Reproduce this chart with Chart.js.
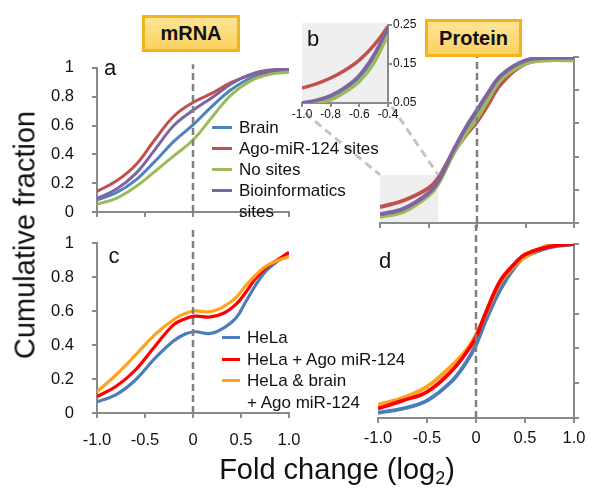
<!DOCTYPE html>
<html>
<head>
<meta charset="utf-8">
<title>Cumulative fraction</title>
<script src="https://cdn.jsdelivr.net/npm/chart.js@4.4.1/dist/chart.umd.min.js"></script>
<style>
  body { margin: 0; background: #fff; }
  #fig { position: relative; width: 601px; height: 501px; overflow: hidden;
         font-family: "Liberation Sans", Arial, sans-serif; color: #111; }
  #fig canvas { position: absolute; }
  .box { position: absolute; box-sizing: border-box; border: 3px solid #f6b21c;
         background: linear-gradient(#fee496, #fbd260); font-weight: bold; font-size: 20px;
         display: flex; align-items: center; justify-content: center; }
  .tag { position: absolute; font-size: 22px; line-height: 1; transform: translate(-50%, -50%); }
  .legend { position: absolute; font-size: 17px; }
  .legend .row { position: relative; white-space: pre; }
  .legend .swatch { position: absolute; left: 0; height: 3px; }
  #legendA .row { line-height: 21px; padding-left: 27px; }
  #legendA .swatch { top: 9px; width: 20px; }
  #legendC .row { line-height: 21.5px; padding-left: 25px; }
  #legendC .swatch { top: 9.25px; width: 18px; }
  .ylab { position: absolute; left: 25px; top: 235px; font-size: 29px; line-height: 1; white-space: nowrap;
          transform: translate(-50%, -50%) rotate(-90deg); }
  .xlab { position: absolute; left: 337px; top: 471px; font-size: 29px; line-height: 1; white-space: nowrap;
          transform: translate(-50%, -50%); }
  .xlab .sub { font-size: 0.62em; vertical-align: -0.3em; }
</style>
</head>
<body>
<div id="fig">
  <canvas id="chartB" width="311" height="240" style="left:290px;top:0px"></canvas>
  <canvas id="chartInset" width="143" height="118" style="left:290px;top:10px"></canvas>
  <canvas id="chartA" width="260" height="200" style="left:40px;top:40px"></canvas>
  <canvas id="chartC" width="280" height="245" style="left:40px;top:215px"></canvas>
  <canvas id="chartD" width="246" height="245" style="left:355px;top:215px"></canvas>

  <div class="box" style="left:142px;top:15px;width:98px;height:37px">mRNA</div>
  <div class="box" style="left:425px;top:19px;width:97px;height:38px">Protein</div>
  <div class="tag" style="left:110px;top:68px">a</div>
  <div class="tag" style="left:313px;top:39px">b</div>
  <div class="tag" style="left:114px;top:256px">c</div>
  <div class="tag" style="left:385px;top:261px">d</div>
  <div id="legendA" class="legend" style="left:212px;top:117px"></div>
  <div id="legendC" class="legend" style="left:222px;top:327px"></div>
  <div class="ylab">Cumulative fraction</div>
  <div class="xlab">Fold change (log<span class="sub">2</span>)</div>
</div>
<script>
// series names
const mrnaNames = ['Brain', 'Ago-miR-124 sites', 'No sites', 'Bioinformatics\nsites'];
const helaNames = ['HeLa', 'HeLa + Ago miR-124', 'HeLa & brain\n+ Ago miR-124'];

// tick values / labels
const xTicks = [-1, -0.5, 0, 0.5, 1];
const xTickLabels = ['-1.0', '-0.5', '0', '0.5', '1.0'];
const yTicks = [0, 0.2, 0.4, 0.6, 0.8, 1];
const yTickLabels = ['0', '0.2', '0.4', '0.6', '0.8', '1'];
const insetXTicks = [-1, -0.8, -0.6, -0.4];
const insetXTickLabels = ['-1.0', '-0.8', '-0.6', '-0.4'];
const insetYTicks = [0.05, 0.15, 0.25];
const insetYTickLabels = ['0.05', '0.15', '0.25'];

// a: mRNA, brain
const foldA = [-1, -0.8, -0.6, -0.4, -0.2, 0, 0.2, 0.4, 0.6, 0.8, 1];
const brainA = [0.085, 0.134, 0.22, 0.35, 0.49, 0.605, 0.735, 0.85, 0.93, 0.97, 0.98];
const agoA = [0.144, 0.215, 0.325, 0.50, 0.665, 0.76, 0.825, 0.90, 0.95, 0.98, 0.99];
const noSitesA = [0.055, 0.095, 0.175, 0.28, 0.39, 0.50, 0.66, 0.815, 0.91, 0.955, 0.97];
const bioA = [0.095, 0.158, 0.265, 0.43, 0.60, 0.706, 0.795, 0.89, 0.955, 0.985, 0.99];

// b: protein, brain
const foldB = [-1, -0.75, -0.5, -0.4, -0.25, -0.1, 0, 0.1, 0.25, 0.5, 0.75, 1];
const brainB = [0.045, 0.08, 0.175, 0.245, 0.42, 0.58, 0.67, 0.76, 0.88, 0.975, 0.99, 0.99];
const agoB = [0.096, 0.137, 0.21, 0.27, 0.42, 0.54, 0.61, 0.70, 0.84, 0.96, 0.985, 0.99];
const noSitesB = [0.036, 0.07, 0.165, 0.235, 0.41, 0.55, 0.63, 0.73, 0.865, 0.96, 0.98, 0.98];
const bioB = [0.052, 0.088, 0.18, 0.25, 0.43, 0.59, 0.68, 0.77, 0.89, 0.98, 0.995, 0.995];

// b inset (zoom of -1.0 .. -0.4)
const foldInset = [-1, -0.9, -0.8, -0.7, -0.6, -0.5, -0.4];
const brainInset = [0.048, 0.054, 0.065, 0.086, 0.117, 0.168, 0.24];
const agoInset = [0.088, 0.099, 0.114, 0.134, 0.16, 0.197, 0.246];
const noSitesInset = [0.044, 0.049, 0.058, 0.078, 0.105, 0.152, 0.225];
const bioInset = [0.05, 0.057, 0.069, 0.09, 0.121, 0.172, 0.243];

// c: mRNA, HeLa
const foldC = [-1, -0.8, -0.6, -0.4, -0.2, -0.08, 0.02, 0.18, 0.33, 0.45, 0.55, 0.65, 0.75, 0.85, 1];
const helaC = [0.066, 0.108, 0.194, 0.32, 0.425, 0.465, 0.478, 0.468, 0.504, 0.56, 0.655, 0.75, 0.83, 0.88, 0.94];
const helaAgoC = [0.096, 0.157, 0.253, 0.39, 0.52, 0.555, 0.57, 0.565, 0.59, 0.64, 0.71, 0.79, 0.85, 0.89, 0.945];
const helaBrainC = [0.125, 0.225, 0.34, 0.46, 0.55, 0.586, 0.60, 0.596, 0.63, 0.68, 0.75, 0.81, 0.86, 0.89, 0.92];

// d: protein, HeLa
const foldD = [-1, -0.75, -0.5, -0.25, -0.1, 0, 0.1, 0.25, 0.4, 0.5, 0.75, 1];
const helaD = [0.03, 0.054, 0.10, 0.21, 0.32, 0.42, 0.56, 0.74, 0.87, 0.925, 0.98, 1.0];
const helaAgoD = [0.054, 0.10, 0.15, 0.27, 0.375, 0.465, 0.605, 0.79, 0.89, 0.94, 0.985, 1.0];
const helaBrainD = [0.077, 0.115, 0.18, 0.30, 0.39, 0.48, 0.60, 0.78, 0.88, 0.925, 0.995, 1.0];

// zoomed window drawn in panel b
const zoomWindow = { x0: -1, x1: -0.4, y0: 0, y1: 0.29 };

const mrnaColors = ['#4f81bd', '#c0504d', '#9bbb59', '#8064a2'];
const helaColors = ['#4a7ebb', '#ff0000', '#ffa31a'];
const axisGray = '#8a8a8a';
const fontFamily = '"Liberation Sans", Arial, sans-serif';

function curve(label, xs, ys, color, width, order) {
    return {
        label: label,
        data: xs.map((x, i) => ({ x: x, y: ys[i] })),
        borderColor: color,
        borderWidth: width,
        pointRadius: 0,
        tension: 0.4,
        fill: false,
        order: order
    };
}

// dashed line at fold change 0
function zeroLine(yFrom, yTo) {
    return {
        label: 'zero',
        data: [{ x: 0, y: yFrom }, { x: 0, y: yTo }],
        borderColor: '#7f7f7f',
        borderWidth: 2.5,
        borderDash: [7, 4],
        pointRadius: 0,
        clip: false,
        order: -1
    };
}

function makePanel(id, cfg) {
    const canvas = document.getElementById(id);
    const left = parseFloat(canvas.style.left);
    const top = parseFloat(canvas.style.top);
    const onRight = cfg.yPosition === 'right';
    const a = cfg.area;
    const padding = {
        top: a.t - top,
        bottom: top + canvas.height - a.b - cfg.xHeight,
        left: a.l - left - (onRight ? 0 : cfg.yWidth),
        right: left + canvas.width - a.r - (onRight ? cfg.yWidth : 0)
    };
    const font = { family: fontFamily, size: cfg.fontSize };
    return new Chart(canvas.getContext('2d'), {
        type: 'line',
        data: { datasets: cfg.datasets },
        options: {
            responsive: false,
            animation: false,
            devicePixelRatio: 1,
            events: [],
            layout: { padding: padding },
            scales: {
                x: {
                    type: 'linear',
                    min: cfg.xMin,
                    max: cfg.xMax,
                    afterBuildTicks: s => { s.ticks = cfg.xTicks.map(v => ({ value: v })); },
                    afterFit: s => { s.height = cfg.xHeight; },
                    ticks: {
                        display: !!cfg.xLabels,
                        autoSkip: false,
                        maxRotation: 0,
                        padding: cfg.xPad || 0,
                        color: '#111',
                        font: font,
                        callback: (v, i) => cfg.xLabels ? cfg.xLabels[i] : ''
                    },
                    grid: { drawOnChartArea: false, tickLength: cfg.tickLen, color: axisGray, lineWidth: 2 },
                    border: { color: axisGray, width: 2 }
                },
                y: {
                    type: 'linear',
                    position: cfg.yPosition,
                    min: cfg.yMin,
                    max: cfg.yMax,
                    afterBuildTicks: s => { s.ticks = cfg.yTicks.map(v => ({ value: v })); },
                    afterFit: s => { s.width = cfg.yWidth; },
                    ticks: {
                        display: !!cfg.yLabels,
                        padding: cfg.yPad || 0,
                        color: '#111',
                        font: font,
                        callback: (v, i) => cfg.yLabels ? cfg.yLabels[i] : ''
                    },
                    grid: { drawOnChartArea: false, tickLength: cfg.tickLen, color: axisGray, lineWidth: 2 },
                    border: { color: axisGray, width: 2 }
                }
            },
            plugins: { legend: { display: false }, tooltip: { enabled: false } }
        },
        plugins: cfg.plugins || []
    });
}

function mrnaSets(xs, series, width) {
    return series.map((ys, i) => curve(mrnaNames[i], xs, ys, mrnaColors[i], width, 10 - i));
}
function helaSets(xs, series, width, orders) {
    return series.map((ys, i) => curve(helaNames[i], xs, ys, helaColors[i], width, orders[i]));
}

// inset first, panel b needs its position for the connectors
const insetChart = makePanel('chartInset', {
    area: { l: 302, t: 25, r: 388, b: 103 },
    yPosition: 'right', yWidth: 40, xHeight: 22, tickLen: 4, fontSize: 12,
    xMin: -1, xMax: -0.4, yMin: 0.05, yMax: 0.25,
    xTicks: insetXTicks, xLabels: insetXTickLabels, xPad: 0,
    yTicks: insetYTicks, yLabels: insetYTickLabels, yPad: 1,
    datasets: mrnaSets(foldInset, [brainInset, agoInset, noSitesInset, bioInset], 3.5),
    plugins: [{
        id: 'insetBg',
        beforeDraw(chart) {
            const c = chart.chartArea, ctx = chart.ctx;
            ctx.save();
            ctx.fillStyle = '#efefef';
            ctx.fillRect(c.left, c.top - 2, c.right - c.left, c.bottom - c.top + 2);
            ctx.restore();
        }
    }]
});

makePanel('chartB', {
    area: { l: 380, t: 57, r: 574, b: 223 },
    yPosition: 'right', yWidth: 10, xHeight: 10, tickLen: 5, fontSize: 16.5,
    xMin: -1, xMax: 1, yMin: 0, yMax: 1,
    xTicks: xTicks, yTicks: yTicks,
    datasets: mrnaSets(foldB, [brainB, agoB, noSitesB, bioB], 4).concat([zeroLine(0, 1)]),
    plugins: [{
        id: 'zoomWindow',
        beforeDraw(chart) {
            const x = chart.scales.x, y = chart.scales.y, ctx = chart.ctx;
            const l = x.getPixelForValue(zoomWindow.x0), r = x.getPixelForValue(zoomWindow.x1);
            const t = y.getPixelForValue(zoomWindow.y1), b = y.getPixelForValue(zoomWindow.y0);
            ctx.save();
            ctx.fillStyle = '#eeeeee';
            ctx.fillRect(l, t, r - l, b - t);
            ctx.restore();
        },
        afterDraw(chart) {
            const x = chart.scales.x, y = chart.scales.y, ctx = chart.ctx;
            const me = chart.canvas, other = insetChart.canvas;
            const dx = parseFloat(other.style.left) - parseFloat(me.style.left);
            const dy = parseFloat(other.style.top) - parseFloat(me.style.top);
            const ia = insetChart.chartArea;
            const l = x.getPixelForValue(zoomWindow.x0), r = x.getPixelForValue(zoomWindow.x1);
            const t = y.getPixelForValue(zoomWindow.y1);
            ctx.save();
            ctx.strokeStyle = '#c4c4c4';
            ctx.lineWidth = 3;
            ctx.setLineDash([8, 5]);
            ctx.beginPath();
            ctx.moveTo(ia.left + dx + 3, ia.bottom + dy + 10);
            ctx.lineTo(l, t);
            ctx.moveTo(ia.right + dx + 4, ia.bottom + dy + 4);
            ctx.lineTo(r, t);
            ctx.stroke();
            ctx.restore();
        }
    }]
});

makePanel('chartA', {
    area: { l: 97, t: 57, r: 289, b: 226 },
    yPosition: 'left', yWidth: 57, xHeight: 10, tickLen: 5, fontSize: 16.5,
    xMin: -1, xMax: 1, yMin: 0, yMax: 1,
    xTicks: xTicks, yTicks: yTicks, yLabels: yTickLabels, yPad: 18,
    datasets: mrnaSets(foldA, [brainA, agoA, noSitesA, bioA], 3).concat([zeroLine(0, 1.025)])
});

makePanel('chartC', {
    area: { l: 97, t: 243, r: 289, b: 413 },
    yPosition: 'left', yWidth: 57, xHeight: 40, tickLen: 5, fontSize: 16.5,
    xMin: -1, xMax: 1, yMin: 0, yMax: 1,
    xTicks: xTicks, xLabels: xTickLabels, xPad: 13,
    yTicks: yTicks, yLabels: yTickLabels, yPad: 18,
    datasets: helaSets(foldC, [helaC, helaAgoC, helaBrainC], 3.2, [10, 9, 8]).concat([zeroLine(0, 1.1)])
});

makePanel('chartD', {
    area: { l: 378, t: 244, r: 574, b: 418 },
    yPosition: 'right', yWidth: 10, xHeight: 40, tickLen: 5, fontSize: 16.5,
    xMin: -1, xMax: 1, yMin: 0, yMax: 1,
    xTicks: xTicks, xLabels: xTickLabels, xPad: 6,
    yTicks: yTicks,
    datasets: helaSets(foldD, [helaD, helaAgoD, helaBrainD], 3.8, [10, 8, 9]).concat([zeroLine(0, 1.11)])
});

// HTML legends from the series names
function buildLegend(id, names, colors) {
    const box = document.getElementById(id);
    names.forEach((name, i) => {
        const row = document.createElement('div');
        row.className = 'row';
        const sw = document.createElement('span');
        sw.className = 'swatch';
        sw.style.background = colors[i];
        row.appendChild(sw);
        row.appendChild(document.createTextNode(name));
        box.appendChild(row);
    });
}
buildLegend('legendA', mrnaNames, mrnaColors);
buildLegend('legendC', helaNames, helaColors);
</script>
</body>
</html>
